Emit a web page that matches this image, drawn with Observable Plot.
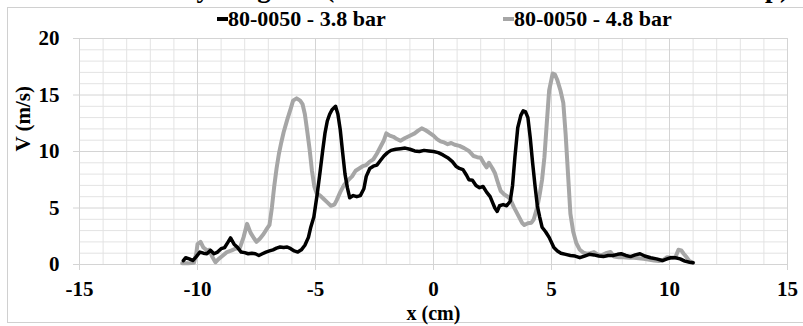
<!DOCTYPE html>
<html>
<head>
<meta charset="utf-8">
<script src="https://cdn.jsdelivr.net/npm/d3@7"></script>
<script src="https://cdn.jsdelivr.net/npm/@observablehq/plot@0.6"></script>
<style>
  html, body { margin: 0; padding: 0; background: #fff; }
  body { width: 803px; height: 326px; overflow: hidden; position: relative; font-family: "Liberation Serif", "Times New Roman", Tinos, "DejaVu Serif", serif; font-weight: bold; }
  #frame { position: absolute; left: 7px; top: 7px; width: 820px; height: 316px; border: 1px solid #d0d0d0; box-sizing: border-box; }
  #title { position: absolute; left: 0; top: 0; width: 803px; height: 6px; overflow: hidden; }
  #title span { position: absolute; right: 14px; top: -25px; font-size: 27px; line-height: 27px; white-space: nowrap; color: #000; }
  #legend { position: absolute; top: 8px; left: 0; width: 803px; height: 22px; font-size: 22px; line-height: 22px; color: #000; font-family: "Liberation Serif", "Times New Roman", Tinos, "DejaVu Serif", serif; }
  .item { position: absolute; top: 0; display: flex; align-items: center; white-space: nowrap; }
  .sw { display: inline-block; width: 11px; height: 4px; }
  #chart { position: absolute; left: 0; top: 0; }
</style>
</head>
<body>
<div id="title"><span>Velocity Diagram (Nozzle 80-0050 at 400 mm from the tip)</span></div>
<div id="frame"></div>
<div id="chart"></div>
<div id="legend"></div>
<script>
// ---- Data ----
const seriesNames = ["80-0050 - 3.8 bar", "80-0050 - 4.8 bar"];
const seriesColors = ["#000000", "#a6a6a6"];

const x38 = [-10.6,-10.5,-10.35,-10.2,-10.05,-9.9,-9.75,-9.6,-9.45,-9.3,-9.15,-9.0,-8.85,-8.7,-8.6,-8.45,-8.3,-8.15,-8.0,-7.85,-7.7,-7.55,-7.4,-7.25,-7.1,-6.95,-6.8,-6.65,-6.5,-6.35,-6.2,-6.05,-5.9,-5.75,-5.6,-5.45,-5.3,-5.2,-5.07,-4.93,-4.8,-4.7,-4.6,-4.5,-4.4,-4.3,-4.15,-4.05,-3.95,-3.85,-3.75,-3.65,-3.55,-3.4,-3.25,-3.1,-2.95,-2.85,-2.7,-2.55,-2.4,-2.25,-2.1,-1.95,-1.8,-1.6,-1.4,-1.2,-1.0,-0.8,-0.6,-0.4,-0.2,0.0,0.2,0.4,0.6,0.8,0.95,1.1,1.25,1.4,1.5,1.65,1.8,1.95,2.1,2.25,2.4,2.5,2.6,2.7,2.8,2.95,3.1,3.25,3.35,3.45,3.57,3.7,3.8,3.9,4.0,4.1,4.2,4.3,4.4,4.5,4.6,4.75,4.9,5.1,5.25,5.4,5.6,5.8,6.0,6.2,6.4,6.6,6.8,7.0,7.2,7.4,7.6,7.8,7.95,8.15,8.35,8.55,8.75,8.95,9.2,9.45,9.7,9.9,10.05,10.25,10.45,10.65,10.85,11.0];
const v38 = [0.35,0.6,0.5,0.35,0.7,1.1,1.0,0.95,1.25,0.95,1.1,1.4,1.5,2.0,2.35,1.8,1.5,1.1,1.05,0.95,1.0,0.95,0.8,0.95,1.1,1.2,1.3,1.45,1.55,1.5,1.55,1.4,1.2,1.1,1.3,1.7,2.4,3.3,4.2,6.2,8.3,10.0,11.6,12.7,13.3,13.7,14.0,13.3,11.9,9.9,8.0,6.8,5.9,6.1,6.0,6.1,6.7,7.8,8.5,8.7,8.8,9.2,9.6,9.9,10.1,10.2,10.25,10.3,10.2,10.05,10.0,10.1,10.05,10.0,9.9,9.7,9.45,9.1,8.7,8.5,8.4,7.9,7.5,7.45,7.0,6.8,6.9,6.4,6.0,5.5,5.0,4.7,5.2,5.3,5.2,5.6,7.0,9.5,12.1,13.2,13.6,13.5,13.0,11.2,9.0,7.0,5.2,4.2,3.3,2.9,2.4,1.5,1.2,1.0,0.9,0.8,0.75,0.6,0.75,0.9,0.85,0.75,0.7,0.8,0.8,0.9,0.95,0.8,0.7,0.85,0.95,0.75,0.6,0.5,0.35,0.5,0.6,0.6,0.5,0.3,0.2,0.15];

const x48 = [-10.65,-10.4,-10.15,-10.05,-10.0,-9.87,-9.75,-9.6,-9.5,-9.38,-9.24,-9.1,-8.95,-8.75,-8.55,-8.4,-8.2,-8.05,-7.9,-7.75,-7.6,-7.5,-7.35,-7.2,-7.05,-6.95,-6.85,-6.75,-6.65,-6.55,-6.45,-6.35,-6.2,-6.05,-5.95,-5.8,-5.65,-5.55,-5.45,-5.35,-5.25,-5.15,-5.05,-4.95,-4.8,-4.65,-4.5,-4.35,-4.2,-4.1,-3.95,-3.8,-3.6,-3.45,-3.3,-3.15,-3.0,-2.85,-2.7,-2.55,-2.4,-2.25,-2.1,-2.0,-1.85,-1.7,-1.55,-1.4,-1.2,-1.0,-0.8,-0.65,-0.5,-0.35,-0.2,0.0,0.15,0.3,0.45,0.6,0.75,0.9,1.1,1.3,1.5,1.7,1.85,2.0,2.15,2.25,2.35,2.5,2.6,2.75,2.85,3.0,3.15,3.25,3.4,3.5,3.6,3.75,3.85,4.0,4.15,4.25,4.4,4.5,4.6,4.7,4.8,4.9,5.05,5.15,5.25,5.38,5.5,5.6,5.7,5.8,5.92,6.05,6.2,6.35,6.5,6.65,6.8,6.95,7.1,7.3,7.5,7.65,7.85,8.05,8.3,8.5,8.7,8.9,9.1,9.35,9.55,9.7,9.9,10.1,10.25,10.38,10.5,10.6,10.7,10.85,11.0];
const v48 = [0.1,0.1,0.15,1.0,1.8,2.0,1.5,1.25,1.3,0.7,0.2,0.5,0.75,1.1,1.25,1.4,1.5,2.4,3.6,2.8,2.3,2.0,2.3,2.7,3.2,3.5,5.0,6.9,8.5,9.8,10.8,11.7,12.8,13.8,14.5,14.7,14.5,14.2,13.3,11.8,10.2,8.3,6.9,6.3,6.1,5.8,5.5,5.2,5.3,5.7,6.4,7.0,7.5,7.8,8.3,8.5,8.7,8.8,9.1,9.3,9.8,10.4,11.0,11.6,11.4,11.3,11.1,10.95,11.2,11.4,11.6,11.85,12.05,11.9,11.7,11.4,11.1,10.9,10.8,10.65,10.75,10.6,10.5,10.3,10.05,9.6,9.5,9.45,8.9,8.6,9.0,8.5,8.1,7.1,6.5,6.2,6.0,5.8,5.1,4.7,4.3,3.7,3.5,3.65,3.7,4.0,5.1,6.2,7.5,9.5,12.5,15.4,16.9,16.8,16.3,15.4,14.3,11.5,8.0,4.5,2.9,1.9,1.3,1.05,0.95,1.0,1.1,0.9,0.8,1.0,1.1,0.7,0.65,0.65,0.6,0.6,0.55,0.5,0.45,0.35,0.3,0.35,0.65,0.6,0.65,1.3,1.25,0.95,0.7,0.3,0.15];

const xTicks = [-15, -10, -5, 0, 5, 10, 15];
const yTicks = [0, 5, 10, 15, 20];
const xLabel = "x (cm)";
const yLabel = "V (m/s)";

// ---- Build tables ----
const rows38 = x38.map((x, i) => ({x, v: v38[i]}));
const rows48 = x48.map((x, i) => ({x, v: v48[i]}));
const xMinor = d3.range(-15, 16).filter(d => d % 5 !== 0);
const yMinor = d3.range(0, 21).filter(d => d % 5 !== 0);
const FONT = "'Liberation Serif', 'Times New Roman', Tinos, 'DejaVu Serif', serif";

const chart = Plot.plot({
  width: 803,
  height: 326,
  marginLeft: 79,
  marginRight: 16,
  marginTop: 38,
  marginBottom: 62,
  style: {background: "transparent", fontFamily: FONT, fontWeight: "bold", fontSize: "21px", color: "#000"},
  x: {domain: [-15, 15]},
  y: {domain: [0, 20]},
  marks: [
    Plot.gridX(xMinor, {stroke: "#e3e3e3", strokeOpacity: 1, strokeWidth: 1}),
    Plot.gridY(yMinor, {stroke: "#e3e3e3", strokeOpacity: 1, strokeWidth: 1}),
    Plot.gridX(xTicks, {stroke: "#d4d4d4", strokeOpacity: 1, strokeWidth: 1}),
    Plot.gridY(yTicks, {stroke: "#d4d4d4", strokeOpacity: 1, strokeWidth: 1}),
    Plot.axisX(xTicks, {tickSize: 6, tickPadding: 11, stroke: "#d4d4d4", fill: "#000", fontSize: 21, fontWeight: "bold", fontFamily: FONT, tickFormat: d => String(d), label: null}),
    Plot.axisY(yTicks, {tickSize: 6, tickPadding: 14, stroke: "#d4d4d4", fill: "#000", fontSize: 21, fontWeight: "bold", fontFamily: FONT, tickFormat: d => String(d), label: null}),
    Plot.line(rows48, {x: "x", y: "v", stroke: seriesColors[1], strokeWidth: 4, strokeLinejoin: "round", strokeLinecap: "round"}),
    Plot.line(rows38, {x: "x", y: "v", stroke: seriesColors[0], strokeWidth: 3.5, strokeLinejoin: "round", strokeLinecap: "round"}),
    Plot.text([xLabel], {frameAnchor: "bottom", dy: 55, text: d => d, fontSize: 20, fontWeight: "bold", fontFamily: FONT, fill: "#000", lineAnchor: "bottom"}),
    Plot.text([yLabel], {frameAnchor: "left", dx: -56, text: d => d, rotate: -90, fontSize: 21, fontWeight: "bold", fontFamily: FONT, fill: "#000"})
  ]
});
document.getElementById("chart").appendChild(chart);

// ---- Legend ----
const legend = document.getElementById("legend");
const legendLeft = [217, 503];
seriesNames.forEach((name, i) => {
  const item = document.createElement("div");
  item.className = "item";
  item.style.left = legendLeft[i] + "px";
  const sw = document.createElement("span");
  sw.className = "sw";
  sw.style.background = seriesColors[i];
  const t = document.createElement("span");
  t.textContent = name;
  item.appendChild(sw);
  item.appendChild(t);
  legend.appendChild(item);
});
</script>
</body>
</html>
